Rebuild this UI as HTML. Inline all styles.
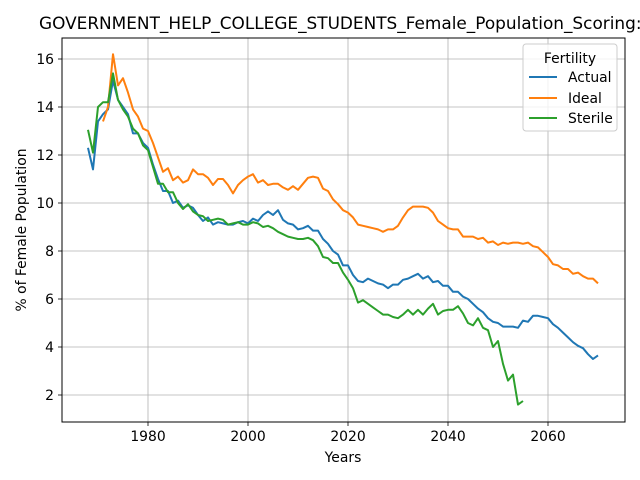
<!DOCTYPE html>
<html><head><meta charset="utf-8"><style>
body{margin:0;background:#fff;}
svg{display:block;font-family:"DejaVu Sans","Liberation Sans",sans-serif;}
</style></head><body>
<svg id="chart" width="640" height="480" viewBox="0 0 640 480">
<rect width="640" height="480" fill="#fff"/>
<text x="39" y="29" font-size="16.9" fill="#000">GOVERNMENT_HELP_COLLEGE_STUDENTS_Female_Population_Scoring: 2</text>
<g id="grid"></g>
<g id="plot"></g>
<rect x="62" y="38" width="563" height="384" fill="none" stroke="#000" stroke-width="1"/>
<g id="ticks"></g>
<text x="343" y="462" font-size="13.9" text-anchor="middle">Years</text>
<text x="0" y="0" font-size="13.9" text-anchor="middle" transform="translate(26,230) rotate(-90)">% of Female Population</text>
<g>
<rect x="523" y="44" width="94" height="87" rx="3" fill="#fff" fill-opacity="0.8" stroke="#ccc"/>
<text x="570" y="63" font-size="13.9" text-anchor="middle">Fertility</text>
<line x1="529" y1="77" x2="557" y2="77" stroke="#1f77b4" stroke-width="2"/>
<text x="568" y="82" font-size="13.9">Actual</text>
<line x1="529" y1="98" x2="557" y2="98" stroke="#ff7f0e" stroke-width="2"/>
<text x="568" y="103" font-size="13.9">Ideal</text>
<line x1="529" y1="118" x2="557" y2="118" stroke="#2ca02c" stroke-width="2"/>
<text x="568" y="123" font-size="13.9">Sterile</text>
</g>
</svg>
<script>
const xTicks = [1980, 2000, 2020, 2040, 2060];
const yTicks = [2, 4, 6, 8, 10, 12, 14, 16];
const actualStart = 1968;
const actualValues = [12.3,11.4,13.4,13.7,13.9,15.1,14.3,14.0,13.7,12.9,12.9,12.5,12.3,11.6,11.0,10.5,10.5,10.0,10.1,9.8,9.9,9.8,9.5,9.25,9.4,9.1,9.2,9.15,9.1,9.1,9.2,9.25,9.15,9.35,9.25,9.5,9.65,9.5,9.7,9.3,9.15,9.1,8.9,8.95,9.05,8.85,8.85,8.5,8.3,8.0,7.85,7.4,7.4,7.0,6.75,6.7,6.85,6.75,6.65,6.6,6.45,6.6,6.6,6.8,6.85,6.95,7.05,6.85,6.95,6.7,6.75,6.55,6.55,6.3,6.3,6.1,6.0,5.8,5.6,5.45,5.2,5.05,5.0,4.85,4.85,4.85,4.8,5.1,5.05,5.3,5.3,5.25,5.2,4.95,4.8,4.6,4.4,4.2,4.05,3.95,3.7,3.5,3.65];
const idealStart = 1971;
const idealValues = [13.4,14.0,16.2,14.9,15.2,14.6,13.9,13.6,13.1,13.0,12.5,11.9,11.3,11.45,10.95,11.1,10.85,10.95,11.4,11.2,11.2,11.05,10.75,11.0,11.0,10.75,10.4,10.75,10.95,11.1,11.2,10.85,10.95,10.75,10.8,10.8,10.65,10.55,10.7,10.55,10.8,11.05,11.1,11.05,10.6,10.5,10.15,9.95,9.7,9.6,9.4,9.1,9.05,9.0,8.95,8.9,8.8,8.9,8.9,9.05,9.4,9.7,9.85,9.85,9.85,9.8,9.6,9.25,9.1,8.95,8.9,8.9,8.6,8.6,8.6,8.5,8.55,8.35,8.4,8.25,8.35,8.3,8.35,8.35,8.3,8.35,8.2,8.15,7.95,7.75,7.45,7.4,7.25,7.25,7.05,7.1,6.95,6.85,6.85,6.65];
const sterileStart = 1968;
const sterileValues = [13.05,12.1,14.0,14.2,14.2,15.4,14.3,13.9,13.6,13.1,12.9,12.4,12.2,11.5,10.8,10.8,10.45,10.45,10.0,9.75,9.95,9.65,9.5,9.45,9.25,9.3,9.35,9.3,9.1,9.15,9.2,9.1,9.1,9.2,9.15,9.0,9.05,8.95,8.8,8.7,8.6,8.55,8.5,8.5,8.55,8.45,8.2,7.75,7.7,7.5,7.5,7.1,6.8,6.45,5.85,5.95,5.8,5.65,5.5,5.35,5.35,5.25,5.2,5.35,5.55,5.35,5.55,5.35,5.6,5.8,5.35,5.5,5.55,5.55,5.7,5.4,5.0,4.9,5.2,4.8,4.7,4.0,4.25,3.3,2.6,2.85,1.6,1.75];

const NS = 'http://www.w3.org/2000/svg';
function xScale(yr){ return 148 + (yr - 1980) * 5; }
function yScale(v){ return 395 - (v - 2) * 24; }
function mk(tag, attrs, parent){ const e = document.createElementNS(NS, tag); for (const k in attrs) e.setAttribute(k, attrs[k]); parent.appendChild(e); return e; }

const grid = document.getElementById('grid');
const ticks = document.getElementById('ticks');
xTicks.forEach(t => {
  const x = xScale(t);
  const g = mk('line', {x1:x, y1:38, x2:x, y2:422, stroke:'#b0b0b0', 'stroke-width':0.8}, grid);
  
  
  mk('line', {x1:x, y1:422, x2:x, y2:426, stroke:'#000', 'stroke-width':0.8}, ticks);
  const l = mk('text', {x:x, y:441, 'font-size':13.9, 'text-anchor':'middle'}, ticks);
  l.textContent = t;
  
  
});
yTicks.forEach(t => {
  const y = yScale(t);
  const g = mk('line', {x1:62, y1:y, x2:625, y2:y, stroke:'#b0b0b0', 'stroke-width':0.8}, grid);
  
  
  mk('line', {x1:58, y1:y, x2:62, y2:y, stroke:'#000', 'stroke-width':0.8}, ticks);
  const l = mk('text', {x:54, y:y+5, 'font-size':13.9, 'text-anchor':'end'}, ticks);
  l.textContent = t;
  
  
});

const plot = document.getElementById('plot');
function drawSeries(start, vals, color, name){
  const pts = vals.map((v, i) => xScale(start + i).toFixed(1) + ',' + yScale(v).toFixed(1)).join(' ');
  const p = mk('polyline', {points:pts, fill:'none', stroke:color, 'stroke-width':2, 'stroke-linejoin':'round'}, plot);
  
  
}
drawSeries(actualStart, actualValues, '#1f77b4', 'actual-line');
drawSeries(idealStart, idealValues, '#ff7f0e', 'ideal-line');
drawSeries(sterileStart, sterileValues, '#2ca02c', 'sterile-line');
</script>
</body></html>
